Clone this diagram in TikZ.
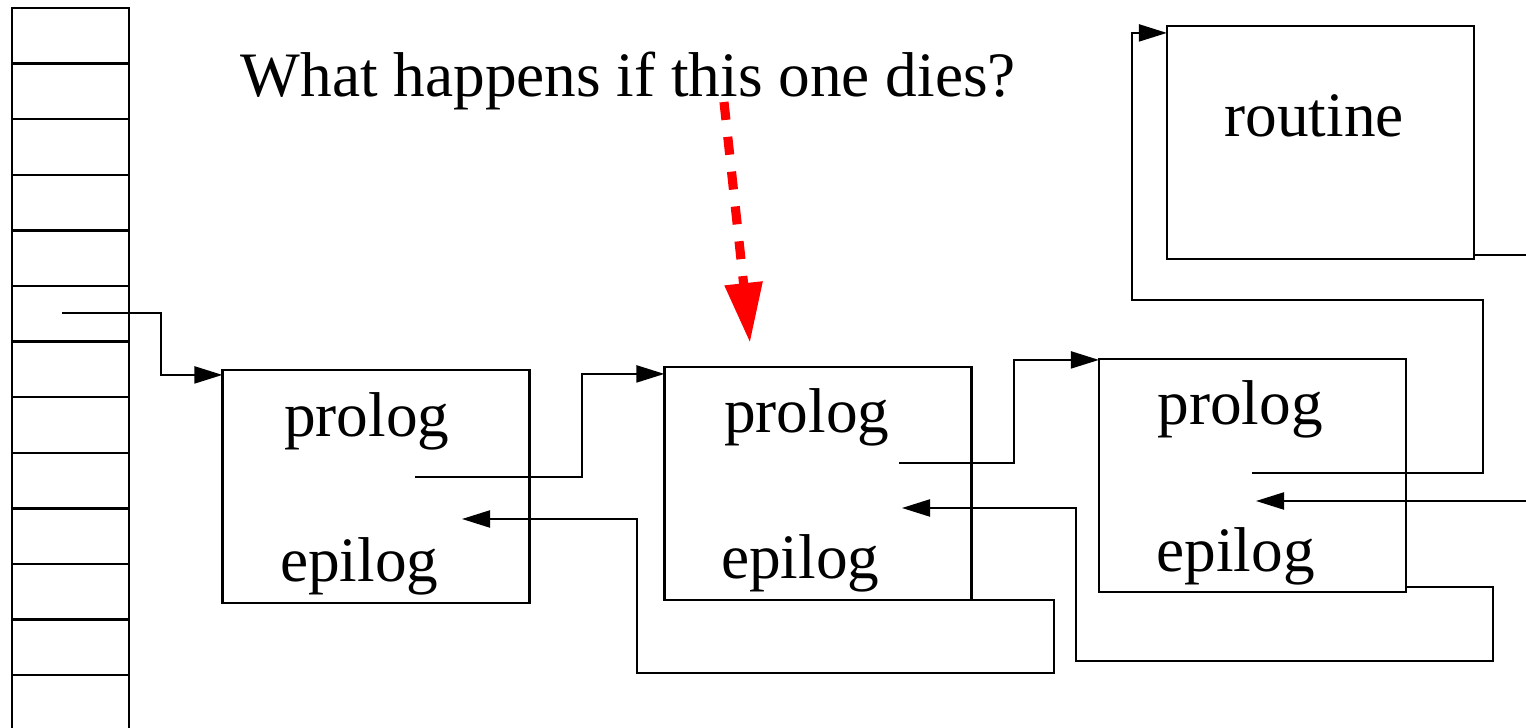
\documentclass[tikz,border=0pt]{standalone}
\usepackage{fontspec}
\setmainfont{Liberation Serif}
\usepackage{tikz}
\usetikzlibrary{arrows.meta, positioning}

\begin{document}
\begin{tikzpicture}[x=0.01cm, y=-0.01cm,
                cell/.style={rectangle, draw=black, line width=0.7pt, inner sep=0pt, outer sep=0pt, minimum width=1.17cm, minimum height=0.556cm},
                frame/.style={rectangle, draw=black, line width=0.7pt, inner sep=0pt, outer sep=0pt, minimum width=3.07cm, minimum height=2.33cm},
                word/.style={font=\fontsize{18pt}{20pt}\selectfont, inner sep=0pt, anchor=base west},
                link/.style={-{Triangle[length=0.28cm, width=0.17cm]}, line width=0.6pt},
                wire/.style={line width=0.6pt},
                alarm/.style={-{Triangle[length=0.6cm, width=0.36cm]}, draw=red, line width=2.6pt, dash pattern=on 0.18cm off 0.17cm}
            ]
                \useasboundingbox (0,0) rectangle (1526,728);

                % stack
                \foreach \i in {0,...,12}
                    \node (s\i) [cell] at (70.5, {8+55.6*\i+27.8}) {};

                \node (q) [word] at (240, 97) {What happens if this one dies?};

                \node (f1) [frame] at (376, 486.5) {};
                \node (f2) [frame] at (818, 483.5) {};
                \node (f3) [frame] at (1252.5, 475.5) {};
                \node (fr) [frame] at (1320.5, 142.5) {};

                \node (p1) [word] at ([shift={(61,67)}]f1.north west) {prolog};
                \node (e1) [word] at ([shift={(57,212)}]f1.north west) {epilog};
                \node (p2) [word] at ([shift={(59,66)}]f2.north west) {prolog};
                \node (e2) [word] at ([shift={(56,212)}]f2.north west) {epilog};
                \node (p3) [word] at ([shift={(58,66)}]f3.north west) {prolog};
                \node (e3) [word] at ([shift={(57,213)}]f3.north west) {epilog};
                \node (r) [word] at ([shift={(57,111)}]fr.north west) {routine};

                \coordinate (sp) at (62, 313);
                \coordinate (o1) at (415, 477);
                \coordinate (o2) at (899, 463);
                \coordinate (o3) at (1252, 473);
                \coordinate (i1) at (462, 519);
                \coordinate (i2) at (902, 508);
                \coordinate (i3) at (1256, 501);
                \coordinate (rin) at (1526, 501);
                \coordinate (rout) at (1526, 255);
                \coordinate (d0) at (724, 102);
                \coordinate (d1) at (750, 343);

                % calls
                \draw [link] (sp) -- ++(99,0) |- ([shift={(0,5)}]f1.north west);
                \draw [link] (o1) -- ++(167,0) |- ([shift={(0,7)}]f2.north west);
                \draw [link] (o2) -- ++(115,0) |- ([shift={(0,1)}]f3.north west);
                \draw [link] (o3) -- ++(231,0) |- ++(-351,-173) |- ([shift={(0,7)}]fr.north west);

                % returns
                \draw [wire] (fr.east |- rout) -- (rout);
                \draw [link] (rin) -- (i3);
                \draw [link] ([shift={(0,-5)}]f3.south east) -- ++(87,0) |- ++(-417,74) |- (i2);
                \draw [link] (f2.south east) -- ++(82,0) |- ++(-417,73) |- (i1);

                \draw [alarm] (d0) -- (d1);
            \end{tikzpicture}
\end{document}
